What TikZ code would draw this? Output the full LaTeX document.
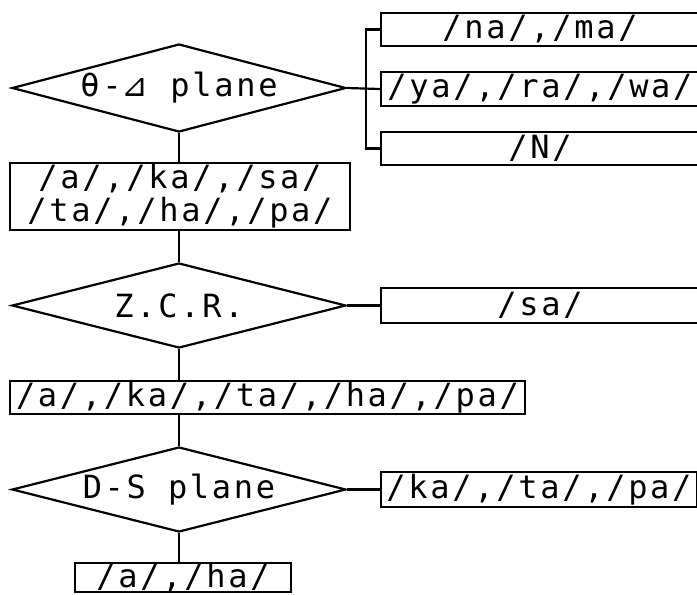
\documentclass[tikz,border=0pt]{standalone}
\usepackage{fontspec}
\usepackage{tikz}
\usetikzlibrary{shapes.geometric,positioning,calc}
\newfontfamily\plotfont{DejaVu Sans Mono}[LetterSpace=8.5]
\newfontfamily\trifont{DejaVu Sans}

\begin{document}
\begin{tikzpicture}[x=1pt, y=-1pt, line width=2.2pt,
    decision/.style={draw, diamond, inner sep=0pt, shape aspect=3.8, minimum width=334pt, font=\plotfont\fontsize{32}{33}\selectfont},
    result/.style={draw, rectangle, inner sep=0pt, font=\plotfont\fontsize{32}{33}\selectfont, align=center}]
    \useasboundingbox (0,0) rectangle (697,595);
    \clip (0,0) rectangle (697,595);

    % First decision: theta-delta plane
    \node[decision, minimum height=88pt] (dtd) at (179,88) {θ-{\trifont ⊿} plane};
    \node[result, minimum width=318pt, minimum height=33pt] (nama) at (540,29.5) {/na/,/ma/};
    \node[result, minimum width=318pt, minimum height=34pt] (yarawa) at (540,89) {/ya/,/ra/,/wa/};
    \node[result, minimum width=318pt, minimum height=33pt] (nn) at (540,148.5) {/N/};
    \coordinate (fork) at (366,88);
    \node[result, minimum width=340pt, minimum height=67pt] (sixset) at (180,196.5) {/a/,/ka/,/sa/\\/ta/,/ha/,/pa/};

    % Second decision: zero crossing rate
    \node[decision, minimum height=85pt] (dzcr) at (179,305.5) {Z.C.R.};
    \node[result, minimum width=318pt, minimum height=35pt] (sa) at (540,305.5) {/sa/};
    \node[result, minimum width=515pt, minimum height=33pt] (fiveset) at (267.5,397.5) {/a/,/ka/,/ta/,/ha/,/pa/};

    % Third decision: D-S plane
    \node[decision, minimum height=85pt] (dds) at (179,489.5) {D-S plane};
    \node[result, minimum width=316pt, minimum height=35pt] (katapa) at (539,489.5) {/ka/,/ta/,/pa/};
    \node[result, minimum width=216pt, minimum height=29pt] (aha) at (183,577.5) {/a/,/ha/};

    % connectors
    \draw (dtd.east) -- (yarawa.west);
    \draw (nama.west) -- (nama.west -| fork) -- (nn.west -| fork) -- (nn.west);
    \draw (dtd.south) -- (dtd.south |- sixset.north);
    \draw (dzcr.north |- sixset.south) -- (dzcr.north);
    \draw (dzcr.east) -- (sa.west);
    \draw (dzcr.south) -- (dzcr.south |- fiveset.north);
    \draw (dds.north |- fiveset.south) -- (dds.north);
    \draw (dds.east) -- (katapa.west);
    \draw (dds.south) -- (dds.south |- aha.north);
\end{tikzpicture}
\end{document}
